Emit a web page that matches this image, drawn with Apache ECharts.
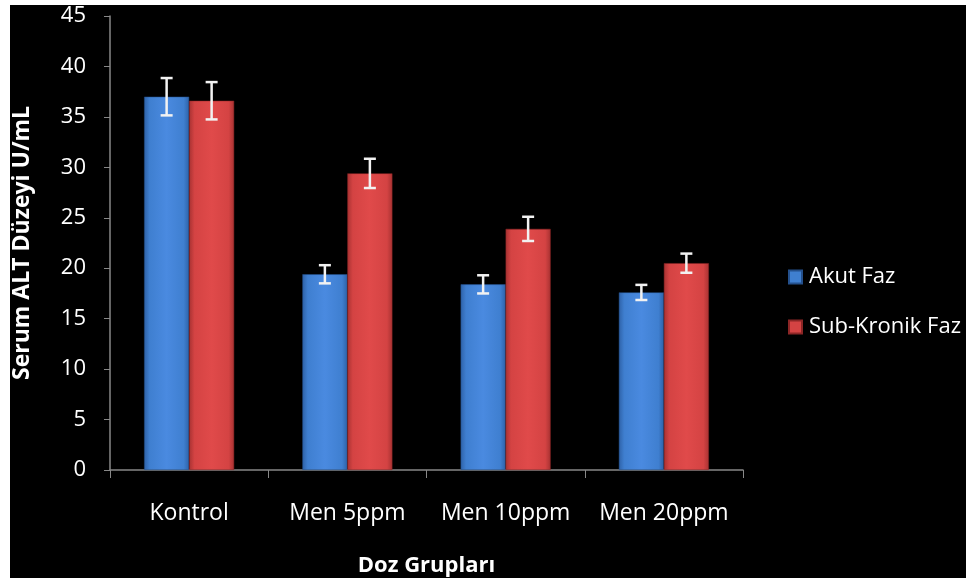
<!DOCTYPE html>
<html><head><meta charset="utf-8">
<script src="https://cdn.jsdelivr.net/npm/echarts@6/dist/echarts.min.js"></script>
<style>
html,body{margin:0;padding:0;background:#fff;}
#wrap{position:absolute;left:10px;top:5px;width:956px;height:573px;background:#000;}
#c{position:absolute;left:0;top:0;width:968px;height:578px;}
</style></head>
<body><div id="wrap"></div><div id="c"></div>
<script>
const categories = ['Kontrol', 'Men 5ppm', 'Men 10ppm', 'Men 20ppm'];
const seriesNames = ['Akut Faz', 'Sub-Kronik Faz'];
const akutValues = [37.0, 19.4, 18.4, 17.6];
const akutErrors = [1.85, 0.9, 0.9, 0.75];
const subKronikValues = [36.6, 29.4, 23.9, 20.5];
const subKronikErrors = [1.85, 1.45, 1.2, 0.95];
const yTicks = [0, 5, 10, 15, 20, 25, 30, 35, 40, 45];

const FONT = '"Open Sans", Lato, sans-serif';
const chart = echarts.init(document.getElementById('c'), null, {renderer: 'canvas'});

function grad(dark, mid, light) {
  return new echarts.graphic.LinearGradient(0, 0, 1, 0, [
    {offset: 0, color: dark}, {offset: 0.12, color: mid},
    {offset: 0.5, color: light}, {offset: 0.88, color: mid}, {offset: 1, color: dark}
  ]);
}

function errorSeries(values, errors, idx) {
  return {
    type: 'custom',
    name: seriesNames[idx] + ' err',
    z: 10,
    data: values.map((v, i) => [i, v - errors[i], v + errors[i]]),
    renderItem: function (params, api) {
      const x = api.value(0);
      const lo = api.coord([x, api.value(1)]);
      const hi = api.coord([x, api.value(2)]);
      const barW = 45;
      const cx = lo[0] + (idx === 0 ? -barW / 2 : barW / 2);
      const cap = 6;
      const st = {stroke: '#f2f2f2', lineWidth: 2.5};
      return {type: 'group', children: [
        {type: 'line', shape: {x1: cx, y1: hi[1], x2: cx, y2: lo[1]}, style: st},
        {type: 'line', shape: {x1: cx - cap, y1: hi[1], x2: cx + cap, y2: hi[1]}, style: st},
        {type: 'line', shape: {x1: cx - cap, y1: lo[1], x2: cx + cap, y2: lo[1]}, style: st}
      ]};
    },
    tooltip: {show: false}
  };
}

chart.setOption({
  backgroundColor: 'transparent',
  animation: false,
  grid: {left: 110, right: 225, top: 16, bottom: 108, containLabel: false, outerBoundsMode: 'none'},
  legend: {
    orient: 'vertical', left: 783, top: 261, itemGap: 28,
    itemWidth: 13, itemHeight: 13, icon: 'rect',
    textStyle: {color: '#fff', fontSize: 22, fontFamily: FONT, padding: [0, 0, 0, 2]},
    data: [
      {name: seriesNames[0], itemStyle: {color: '#3f7fd0'}},
      {name: seriesNames[1], itemStyle: {color: '#d44343'}}
    ]
  },
  xAxis: {
    type: 'category', data: categories,
    name: 'Doz Grupları', nameLocation: 'middle', nameGap: 85,
    nameTextStyle: {color: '#fff', fontSize: 22, fontWeight: 'bold', fontFamily: FONT},
    axisLine: {lineStyle: {color: '#888', width: 1.5}},
    axisTick: {show: true, length: 8, lineStyle: {color: '#888'}, alignWithLabel: false},
    axisLabel: {color: '#fff', fontSize: 23, fontFamily: FONT, margin: 32, interval: 0, hideOverlap: false}
  },
  yAxis: {
    type: 'value', min: 0, max: 45, interval: 5,
    name: 'Serum ALT Düzeyi U/mL', nameLocation: 'middle', nameGap: 76,
    nameTextStyle: {color: '#fff', fontSize: 23, fontWeight: 'bold', fontFamily: FONT},
    axisLine: {show: true, lineStyle: {color: '#888', width: 1.5}},
    axisTick: {show: true, length: 6, lineStyle: {color: '#888'}},
    splitLine: {show: false},
    axisLabel: {color: '#fff', fontSize: 22, fontFamily: FONT, margin: 24,
      formatter: v => yTicks.includes(v) ? String(v) : ''}
  },
  series: [
    {
      type: 'bar', name: seriesNames[0], data: akutValues, barWidth: 45, barGap: '0%',
      itemStyle: {color: grad('#2e62a8', '#3f7fd0', '#4a8ae0'), borderColor: '#24508c', borderWidth: 0.5},
      z: 2
    },
    {
      type: 'bar', name: seriesNames[1], data: subKronikValues, barWidth: 45,
      itemStyle: {color: grad('#a83232', '#d44343', '#e04a4a'), borderColor: '#8c2626', borderWidth: 0.5},
      z: 2
    },
    errorSeries(akutValues, akutErrors, 0),
    errorSeries(subKronikValues, subKronikErrors, 1)
  ]
});
</script></body></html>
